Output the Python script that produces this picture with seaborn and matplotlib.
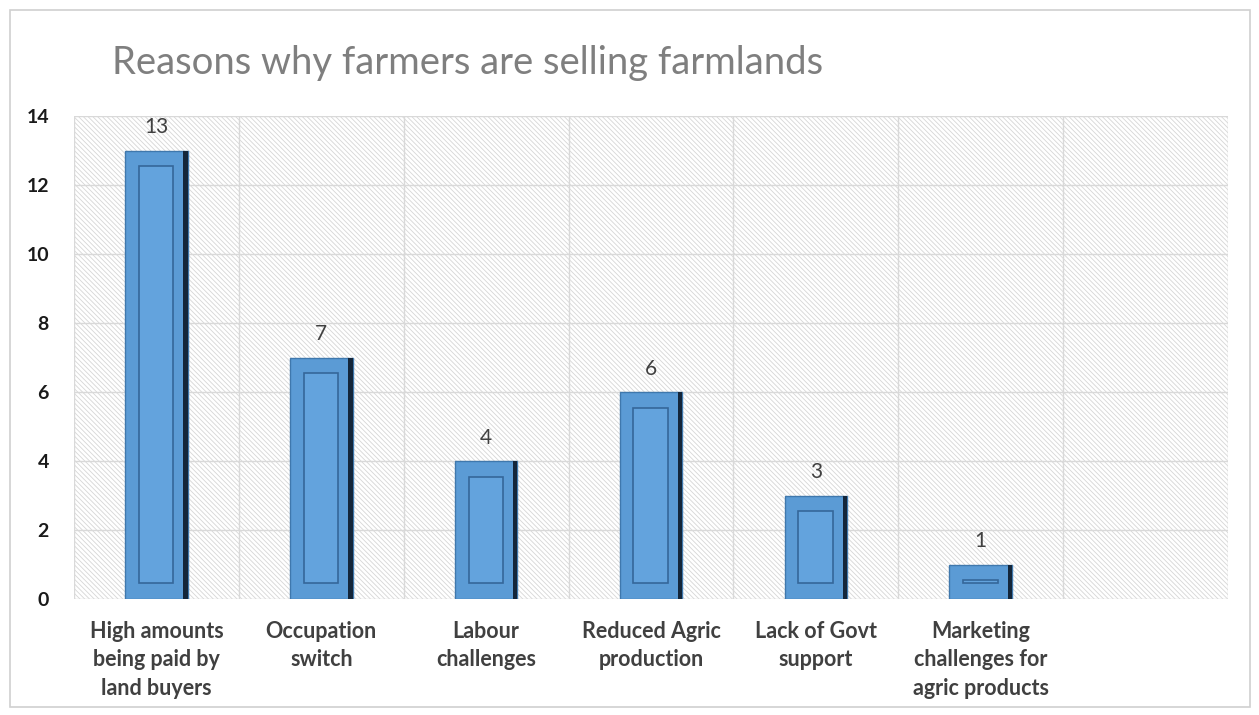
import matplotlib
matplotlib.use("Agg")
import matplotlib.pyplot as plt
from matplotlib.patches import Rectangle
import seaborn as sns
import pandas as pd

categories = [
    "High amounts\nbeing paid by\nland buyers",
    "Occupation\nswitch",
    "Labour\nchallenges",
    "Reduced Agric\nproduction",
    "Lack of Govt\nsupport",
    "Marketing\nchallenges for\nagric products",
]
counts = [13, 7, 4, 6, 3, 1]
y_ticks = [0, 2, 4, 6, 8, 10, 12, 14]
title = "Reasons why farmers are selling farmlands"

sns.set_theme(style="white")
plt.rcParams["font.family"] = ["Lato", "DejaVu Sans"]
plt.rcParams["hatch.linewidth"] = 0.6

df = pd.DataFrame({"reason": categories, "count": counts})

fig = plt.figure(figsize=(12.59, 7.15), dpi=100)
ax = fig.add_axes([74 / 1259, 1 - 599 / 715, (1228 - 74) / 1259, (599 - 116) / 715])

# hatched plot background
ax.add_patch(Rectangle((0, 0), 1, 1, transform=ax.transAxes, fill=False,
                       hatch="\\\\\\\\\\\\\\", edgecolor="#d6d6d6", linewidth=0, zorder=0))

sns.barplot(data=df, x="reason", y="count", color="#5b9bd5", width=0.38,
            saturation=1, edgecolor="#3f78ad", linewidth=1.0, ax=ax, zorder=3)
bars = [p for p in ax.patches if p.get_zorder() == 3]

n_slots = len(categories) + 1
ax.set_xlim(-0.5, n_slots - 0.5)
ax.set_ylim(0, 14)
ax.set_yticks(y_ticks)

# gridlines: horizontal at ticks, vertical at slot boundaries
for y in y_ticks:
    ax.axhline(y, color="#d9d9d9", linewidth=1.0, zorder=1)
for i in range(n_slots + 1):
    ax.axvline(i - 0.5, color="#d9d9d9", linewidth=1.0, zorder=1)

# bevelled look: dark right edge and recessed inner panel
for bar, val in zip(bars, counts):
    x0, w, h = bar.get_x(), bar.get_width(), bar.get_height()
    ax.add_patch(Rectangle((x0 + w * 0.93, 0), w * 0.07, h, facecolor="#14263a",
                           edgecolor="none", zorder=4))
    inset_y = min(0.45, h * 0.47)
    ax.add_patch(Rectangle((x0 + w * 0.22, inset_y), w * 0.55, h - 2 * inset_y,
                           facecolor="#63a3dd", edgecolor="#35679a", linewidth=1.2, zorder=5))
    ax.text(x0 + w / 2, h + 0.38, f"{val}", ha="center", va="bottom",
            fontsize=15, color="#404040", zorder=6)

for s in ax.spines.values():
    s.set_visible(False)
ax.tick_params(axis="both", length=0)
ax.set_xlabel("")
ax.set_ylabel("")
ax.set_xticks(range(len(categories)))
ax.set_xticklabels(categories, fontsize=15.5, fontweight="bold", color="#404040",
                   linespacing=1.42)
ax.tick_params(axis="x", pad=16)
ax.tick_params(axis="y", pad=18)
for lbl in ax.get_yticklabels():
    lbl.set_fontweight("bold")
    lbl.set_fontsize(14)
    lbl.set_color("#1a1a1a")

fig.text(112 / 1259, 1 - 63 / 715, title, fontsize=27.5, color="#7f7f7f",
         ha="left", va="center")

# chart border
fig.add_artist(Rectangle((10 / 1259, 8 / 715), 1240 / 1259, 697 / 715,
                         transform=fig.transFigure, fill=False,
                         edgecolor="#d0d0d0", linewidth=1.2))

fig.savefig("out.png", dpi=100, facecolor="white")
